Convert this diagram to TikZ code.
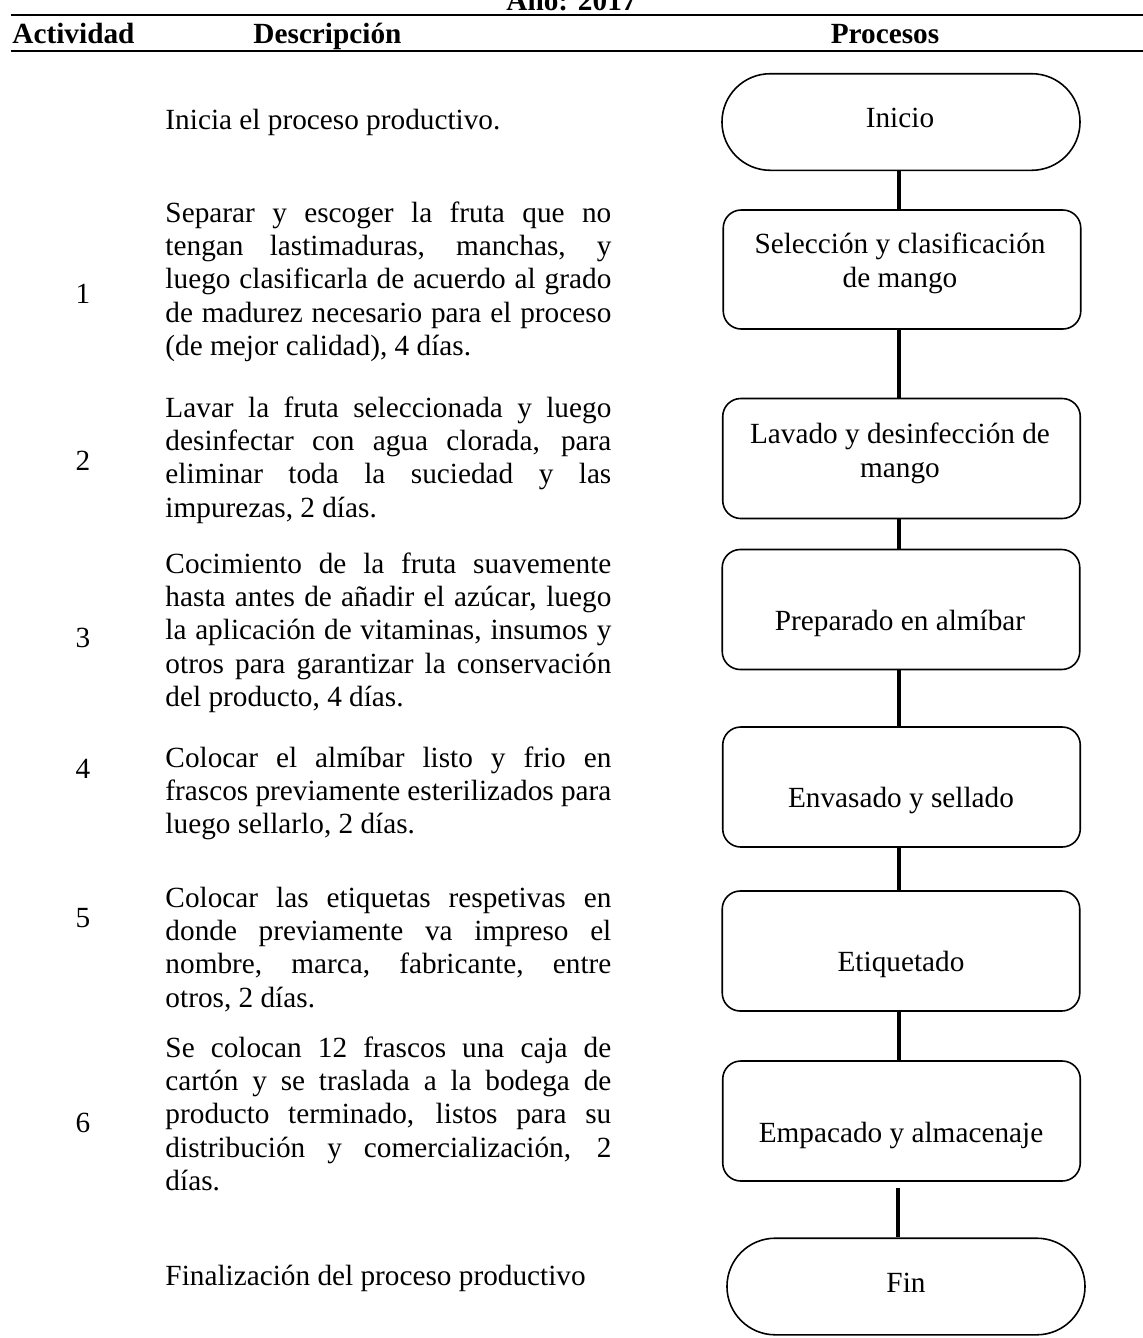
\documentclass[tikz,border=0pt]{standalone}
\usepackage{fontspec}
\setmainfont{Liberation Serif}
\usetikzlibrary{shapes.misc}
\tolerance=10000
\hyphenpenalty=10000
\hbadness=10000
\tikzset{
  procbox/.style={draw, line width=0.65pt, rounded corners=7.4pt, minimum width=146.6pt, minimum height=49.2pt, inner sep=0pt},
  termbox/.style={draw, line width=0.65pt, rounded rectangle, minimum width=146.8pt, minimum height=39.6pt, inner sep=0pt},
  lbl/.style={anchor=base, inner sep=0pt, align=center},
  desc/.style={anchor=base west, inner sep=0pt, text width=182.8pt, align=justify},
  num/.style={anchor=base, inner sep=0pt},
  hdr/.style={anchor=base, inner sep=0pt, font=\fontsize{12}{13.7}\selectfont\bfseries},
  conn/.style={line width=1.3pt},
  hrule/.style={line width=0.8pt},
}
\begin{document}
\begin{tikzpicture}[x=0.41pt, y=-0.41pt, font=\fontsize{12}{13.7}\selectfont]
\useasboundingbox (0,0) rectangle (1143,1338);

% title and header
\node[hdr] (title) at (571.5,10) {Año: 2017};
\coordinate (r1a) at (11,15);
\coordinate (r1b) at (1143,15);
\coordinate (r2a) at (11,51);
\coordinate (r2b) at (1143,51);
\draw[hrule] (r1a) -- (r1b);
\draw[hrule] (r2a) -- (r2b);
\node[hdr, anchor=base west] (hact) at (12,43) {Actividad};
\node[hdr, anchor=base west] (hdes) at (253,43) {Descripción};
\node[hdr] (hpro) at (885,43) {Procesos};

% flowchart shapes
\node[termbox] (ini) at (901,122) {};
\node[procbox, minimum height=48.8pt] (b1) at (902,269.5) {};
\node[procbox] (b2) at (901.5,458.5) {};
\node[procbox] (b3) at (901,609.5) {};
\node[procbox] (b4) at (901.5,787) {};
\node[procbox] (b5) at (901,951) {};
\node[procbox] (b6) at (901.5,1121) {};
\node[termbox] (fin) at (906,1286.5) {};

% labels inside shapes (base = baseline of last line)
\node[lbl] (tini) at (900,127) {Inicio};
\node[lbl] (t1) at (900,287) {Selección y clasificación\\de mango};
\node[lbl] (t2) at (900,477) {Lavado y desinfección de\\mango};
\node[lbl] (t3) at (900,630) {Preparado en almíbar};
\node[lbl] (t4) at (901,807) {Envasado y sellado};
\node[lbl] (t5) at (901,971) {Etiquetado};
\node[lbl] (t6) at (901,1142) {Empacado y almacenaje};
\node[lbl] (tfin) at (906,1292) {Fin};

% connectors
\coordinate (spine) at (899,0);
\coordinate (c6) at (898,1188);
\draw[conn] (ini.south -| spine) -- (b1.north -| spine);
\draw[conn] (b1.south -| spine) -- (b2.north -| spine);
\draw[conn] (b2.south -| spine) -- (b3.north -| spine);
\draw[conn] (b3.south -| spine) -- (b4.north -| spine);
\draw[conn] (b4.south -| spine) -- (b5.north -| spine);
\draw[conn] (b5.south -| spine) -- (b6.north -| spine);
\draw[conn] (c6) -- (fin.north -| c6);

% activity numbers
\node[num] (n1) at (83,303) {1};
\node[num] (n2) at (83,470) {2};
\node[num] (n3) at (83,647) {3};
\node[num] (n4) at (83,778) {4};
\node[num] (n5) at (83,927) {5};
\node[num] (n6) at (83,1132) {6};

% descriptions
\node[anchor=base west, inner sep=0pt] (d0) at (165,129) {Inicia el proceso productivo.};
\node[desc] (d1) at (165,222) {Separar y escoger la fruta que no\linebreak
tengan lastimaduras, manchas, y\linebreak
luego clasificarla de acuerdo al grado\linebreak
de madurez necesario para el proceso\linebreak
(de mejor calidad), 4 días.};
\node[desc] (d2) at (165,417) {Lavar la fruta seleccionada y luego\linebreak
desinfectar con agua clorada, para\linebreak
eliminar toda la suciedad y las\linebreak
impurezas, 2 días.};
\node[desc] (d3) at (165,573) {Cocimiento de la fruta suavemente\linebreak
hasta antes de añadir el azúcar, luego\linebreak
la aplicación de vitaminas, insumos y\linebreak
otros para garantizar la conservación\linebreak
del producto, 4 días.};
\node[desc] (d4) at (165,767) {Colocar el almíbar listo y frio en\linebreak
frascos previamente esterilizados para\linebreak
luego sellarlo, 2 días.};
\node[desc] (d5) at (165,907) {Colocar las etiquetas respetivas en\linebreak
donde previamente va impreso el\linebreak
nombre, marca, fabricante, entre\linebreak
otros, 2 días.};
\node[desc] (d6) at (165,1057) {Se colocan 12 frascos una caja de\linebreak
cartón y se traslada a la bodega de\linebreak
producto terminado, listos para su\linebreak
distribución y comercialización, 2\linebreak
días.};
\node[anchor=base west, inner sep=0pt] (d7) at (165,1285) {Finalización del proceso productivo};
\end{tikzpicture}
\end{document}
